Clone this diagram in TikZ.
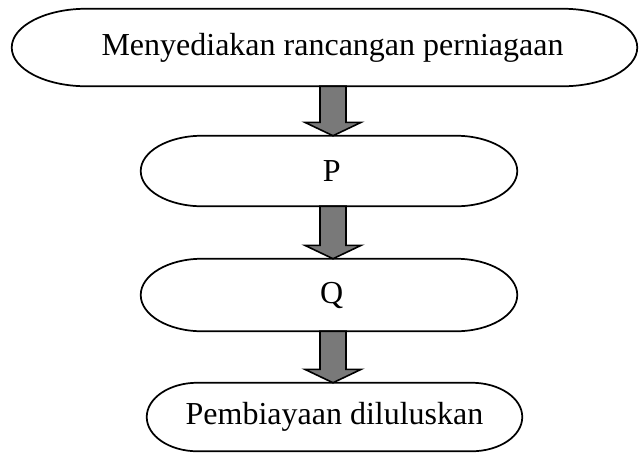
\documentclass[tikz,border=0pt]{standalone}
\usepackage{fontspec}
\setmainfont{Liberation Serif}
\usetikzlibrary{calc}
\tikzset{
  boxtext/.style={draw=none, inner sep=0pt, font=\fontsize{24}{28}\selectfont},
  boxline/.style={line width=1.3pt, draw=black},
  arrowfill/.style={line width=1.2pt, draw=black, fill=gray!95!black, line join=miter}
}
\newcommand\stadium[2]{%
  \draw[boxline] let \p1=(#1.north west), \p2=(#1.south east) in
    (\x1+#2,\y1) -- (\x2-#2,\y1)
    arc[start angle=90,end angle=-90,x radius=#2,y radius={(\y1-\y2)/2}]
    -- (\x1+#2,\y2)
    arc[start angle=270,end angle=90,x radius=#2,y radius={(\y1-\y2)/2}]
    -- cycle;}
\newcommand\blockarrow[2]{%
  \draw[arrowfill] let \p1=(#1.south -| ax), \p2=(#2.north -| ax) in
    (\x1-9.75pt,\y1) -- (\x1+9.75pt,\y1) -- (\x1+9.75pt,\y2+10pt)
    -- (\x1+21pt,\y2+10pt) -- (\x1,\y2) -- (\x1-21pt,\y2+10pt)
    -- (\x1-9.75pt,\y2+10pt) -- cycle;}
\begin{document}
\begin{tikzpicture}[x=0.75pt,y=-0.75pt]
\useasboundingbox (0,0) rectangle (639,455);
\coordinate (ax) at (333,0);
\node[boxtext, minimum width=625*0.75pt, minimum height=77*0.75pt] (b1) at (324.5,47.5) {\hspace*{12pt}Menyediakan rancangan perniagaan};
\node[boxtext, minimum width=376*0.75pt, minimum height=70*0.75pt] (bp) at (329,171) {\hspace*{4pt}P};
\node[boxtext, minimum width=376*0.75pt, minimum height=72*0.75pt] (bq) at (329,295) {\hspace*{4pt}Q};
\node[boxtext, minimum width=375*0.75pt, minimum height=68*0.75pt] (b4) at (334.5,417) {Pembiayaan diluluskan};
\stadium{b1}{56pt}
\stadium{bp}{46pt}
\stadium{bq}{46pt}
\stadium{b4}{38pt}
\blockarrow{b1}{bp}
\blockarrow{bp}{bq}
\blockarrow{bq}{b4}
\end{tikzpicture}
\end{document}
